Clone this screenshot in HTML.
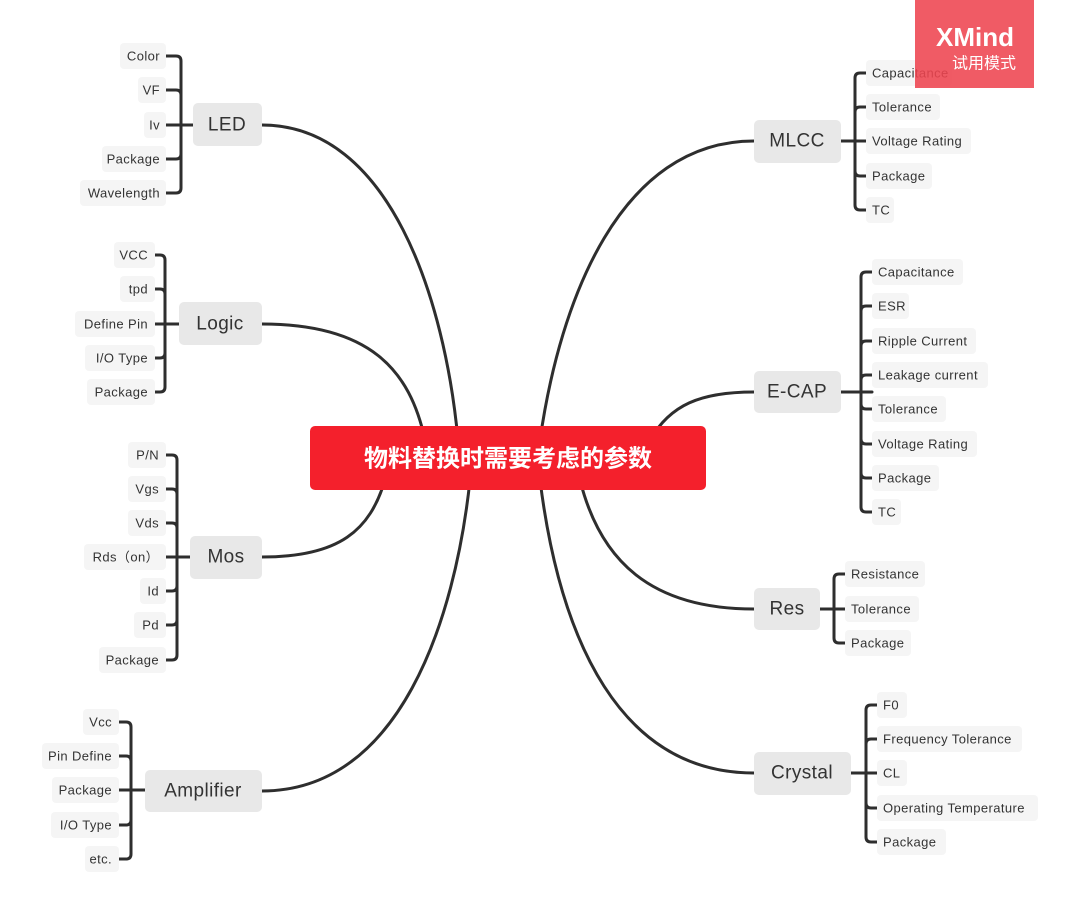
<!DOCTYPE html>
<html><head><meta charset="utf-8"><style>
html,body{margin:0;padding:0;background:#fff;}
svg{display:block;font-family:"Liberation Sans","Noto Sans CJK SC",sans-serif;}
.leaf{fill:#f5f5f5;}
.lt{font-size:13px;fill:#333;dominant-baseline:central;letter-spacing:0.4px;}
.main{fill:#e8e8e8;}
.mt{font-size:19px;fill:#333;dominant-baseline:central;text-anchor:middle;letter-spacing:0.4px;}
.ln{stroke:#2e2e2e;stroke-width:3;fill:none;stroke-linecap:round;}
</style></head><body>
<svg width="1080" height="915" viewBox="0 0 1080 915">
<path class="ln" d="M262,125 C390,125 445,300 458,440"/>
<path class="ln" d="M262,324 C370,324 410,370 425,440"/>
<path class="ln" d="M262,557 C340,557 370,530 385,480"/>
<path class="ln" d="M262,791 C400,791 455,620 470,480"/>
<path class="ln" d="M754,141 C620,141 560,300 540,440"/>
<path class="ln" d="M754,392 C700,392 670,405 650,440"/>
<path class="ln" d="M754,609 C650,609 600,560 580,480"/>
<path class="ln" d="M754,773 C620,773 560,640 540,480"/>

<g class="ln">
<path d="M166,56 H176 Q181,56 181,61 V188 Q181,193 176,193 H166"/>
<path d="M166,90 H176 Q181,90 181,95 M166,159 H176 Q181,159 181,154 M166,125 H193"/>
<path d="M155,255 H160 Q165,255 165,260 V387 Q165,392 160,392 H155"/>
<path d="M155,289 H160 Q165,289 165,294 M155,358 H160 Q165,358 165,353 M155,324 H179"/>
<path d="M166,455 H172 Q177,455 177,460 V655 Q177,660 172,660 H166"/>
<path d="M166,489 H172 Q177,489 177,494 M166,523 H172 Q177,523 177,528 M166,591 H172 Q177,591 177,586 M166,625 H172 Q177,625 177,620 M166,557 H190"/>
<path d="M119,722 H126 Q131,722 131,727 V854 Q131,859 126,859 H119"/>
<path d="M119,756 H126 Q131,756 131,761 M119,825 H126 Q131,825 131,820 M119,790 H145"/>
<path d="M866,73 H860 Q855,73 855,78 V205 Q855,210 860,210 H866"/>
<path d="M866,107 H860 Q855,107 855,112 M866,176 H860 Q855,176 855,171 M841,141 H866"/>
<path d="M872,272 H866 Q861,272 861,277 V507 Q861,512 866,512 H872"/>
<path d="M872,306 H866 Q861,306 861,311 M872,341 H866 Q861,341 861,346 M872,375 H866 Q861,375 861,380 M872,409 H866 Q861,409 861,404 M872,444 H866 Q861,444 861,439 M872,478 H866 Q861,478 861,473 M841,392 H872"/>
<path d="M845,574 H839 Q834,574 834,579 V638 Q834,643 839,643 H845"/>
<path d="M820,609 H845"/>
<path d="M877,705 H871 Q866,705 866,710 V837 Q866,842 871,842 H877"/>
<path d="M877,739 H871 Q866,739 866,744 M877,808 H871 Q866,808 866,803 M851,773 H877"/>
</g>

<rect class="main" x="193" y="103" width="69" height="43" rx="5"/><text class="mt" x="227" y="125">LED</text>
<rect class="main" x="179" y="302" width="83" height="43" rx="5"/><text class="mt" x="220" y="324">Logic</text>
<rect class="main" x="190" y="536" width="72" height="43" rx="5"/><text class="mt" x="226" y="557">Mos</text>
<rect class="main" x="145" y="770" width="117" height="42" rx="5"/><text class="mt" x="203" y="791">Amplifier</text>
<rect class="main" x="754" y="120" width="87" height="43" rx="5"/><text class="mt" x="797" y="141">MLCC</text>
<rect class="main" x="754" y="371" width="87" height="42" rx="5"/><text class="mt" x="797" y="392">E-CAP</text>
<rect class="main" x="754" y="588" width="66" height="42" rx="5"/><text class="mt" x="787" y="609">Res</text>
<rect class="main" x="754" y="752" width="97" height="43" rx="5"/><text class="mt" x="802" y="773">Crystal</text>

<g>
<rect class="leaf" x="120" y="43" width="46" height="26" rx="4"/><text class="lt" x="160" y="56" text-anchor="end">Color</text>
<rect class="leaf" x="138" y="77" width="28" height="26" rx="4"/><text class="lt" x="160" y="90" text-anchor="end">VF</text>
<rect class="leaf" x="144" y="112" width="22" height="26" rx="4"/><text class="lt" x="160" y="125" text-anchor="end">Iv</text>
<rect class="leaf" x="102" y="146" width="64" height="26" rx="4"/><text class="lt" x="160" y="159" text-anchor="end">Package</text>
<rect class="leaf" x="80" y="180" width="86" height="26" rx="4"/><text class="lt" x="160" y="193" text-anchor="end">Wavelength</text>

<rect class="leaf" x="114" y="242" width="41" height="26" rx="4"/><text class="lt" x="148" y="255" text-anchor="end">VCC</text>
<rect class="leaf" x="120" y="276" width="35" height="26" rx="4"/><text class="lt" x="148" y="289" text-anchor="end">tpd</text>
<rect class="leaf" x="75" y="311" width="80" height="26" rx="4"/><text class="lt" x="148" y="324" text-anchor="end">Define Pin</text>
<rect class="leaf" x="85" y="345" width="70" height="26" rx="4"/><text class="lt" x="148" y="358" text-anchor="end">I/O Type</text>
<rect class="leaf" x="87" y="379" width="68" height="26" rx="4"/><text class="lt" x="148" y="392" text-anchor="end">Package</text>

<rect class="leaf" x="128" y="442" width="38" height="26" rx="4"/><text class="lt" x="159" y="455" text-anchor="end">P/N</text>
<rect class="leaf" x="128" y="476" width="38" height="26" rx="4"/><text class="lt" x="159" y="489" text-anchor="end">Vgs</text>
<rect class="leaf" x="128" y="510" width="38" height="26" rx="4"/><text class="lt" x="159" y="523" text-anchor="end">Vds</text>
<rect class="leaf" x="84" y="544" width="82" height="26" rx="4"/><text class="lt" x="159" y="557" text-anchor="end">Rds（on）</text>
<rect class="leaf" x="140" y="578" width="26" height="26" rx="4"/><text class="lt" x="159" y="591" text-anchor="end">Id</text>
<rect class="leaf" x="134" y="612" width="32" height="26" rx="4"/><text class="lt" x="159" y="625" text-anchor="end">Pd</text>
<rect class="leaf" x="99" y="647" width="67" height="26" rx="4"/><text class="lt" x="159" y="660" text-anchor="end">Package</text>

<rect class="leaf" x="83" y="709" width="36" height="26" rx="4"/><text class="lt" x="112" y="722" text-anchor="end">Vcc</text>
<rect class="leaf" x="42" y="743" width="77" height="26" rx="4"/><text class="lt" x="112" y="756" text-anchor="end">Pin Define</text>
<rect class="leaf" x="52" y="777" width="67" height="26" rx="4"/><text class="lt" x="112" y="790" text-anchor="end">Package</text>
<rect class="leaf" x="51" y="812" width="68" height="26" rx="4"/><text class="lt" x="112" y="825" text-anchor="end">I/O Type</text>
<rect class="leaf" x="85" y="846" width="34" height="26" rx="4"/><text class="lt" x="112" y="859" text-anchor="end">etc.</text>
</g>

<g>
<rect class="leaf" x="866" y="60" width="86" height="26" rx="4"/><text class="lt" x="872" y="73">Capacitance</text>
<rect class="leaf" x="866" y="94" width="74" height="26" rx="4"/><text class="lt" x="872" y="107">Tolerance</text>
<rect class="leaf" x="866" y="128" width="105" height="26" rx="4"/><text class="lt" x="872" y="141">Voltage Rating</text>
<rect class="leaf" x="866" y="163" width="66" height="26" rx="4"/><text class="lt" x="872" y="176">Package</text>
<rect class="leaf" x="866" y="197" width="28" height="26" rx="4"/><text class="lt" x="872" y="210">TC</text>

<rect class="leaf" x="872" y="259" width="91" height="26" rx="4"/><text class="lt" x="878" y="272">Capacitance</text>
<rect class="leaf" x="872" y="293" width="37" height="26" rx="4"/><text class="lt" x="878" y="306">ESR</text>
<rect class="leaf" x="872" y="328" width="104" height="26" rx="4"/><text class="lt" x="878" y="341">Ripple Current</text>
<rect class="leaf" x="872" y="362" width="116" height="26" rx="4"/><text class="lt" x="878" y="375">Leakage current</text>
<rect class="leaf" x="872" y="396" width="74" height="26" rx="4"/><text class="lt" x="878" y="409">Tolerance</text>
<rect class="leaf" x="872" y="431" width="105" height="26" rx="4"/><text class="lt" x="878" y="444">Voltage Rating</text>
<rect class="leaf" x="872" y="465" width="67" height="26" rx="4"/><text class="lt" x="878" y="478">Package</text>
<rect class="leaf" x="872" y="499" width="29" height="26" rx="4"/><text class="lt" x="878" y="512">TC</text>

<rect class="leaf" x="845" y="561" width="80" height="26" rx="4"/><text class="lt" x="851" y="574">Resistance</text>
<rect class="leaf" x="845" y="596" width="74" height="26" rx="4"/><text class="lt" x="851" y="609">Tolerance</text>
<rect class="leaf" x="845" y="630" width="66" height="26" rx="4"/><text class="lt" x="851" y="643">Package</text>

<rect class="leaf" x="877" y="692" width="30" height="26" rx="4"/><text class="lt" x="883" y="705">F0</text>
<rect class="leaf" x="877" y="726" width="145" height="26" rx="4"/><text class="lt" x="883" y="739">Frequency Tolerance</text>
<rect class="leaf" x="877" y="760" width="30" height="26" rx="4"/><text class="lt" x="883" y="773">CL</text>
<rect class="leaf" x="877" y="795" width="161" height="26" rx="4"/><text class="lt" x="883" y="808">Operating Temperature</text>
<rect class="leaf" x="877" y="829" width="69" height="26" rx="4"/><text class="lt" x="883" y="842">Package</text>
</g>

<rect x="310" y="426" width="396" height="64" rx="5" fill="#f4202c"/>
<text x="508" y="459" font-size="24" font-weight="bold" fill="#fff" text-anchor="middle" dominant-baseline="central">物料替换时需要考虑的参数</text>

<rect x="915" y="0" width="119" height="88" fill="#ee4450" fill-opacity="0.88"/>
<text x="975" y="37" font-size="26" font-weight="bold" fill="#fff" text-anchor="middle" dominant-baseline="central">XMind</text>
<text x="984" y="64" font-size="16" fill="#fff" text-anchor="middle" dominant-baseline="central">试用模式</text>
</svg>
</body></html>
